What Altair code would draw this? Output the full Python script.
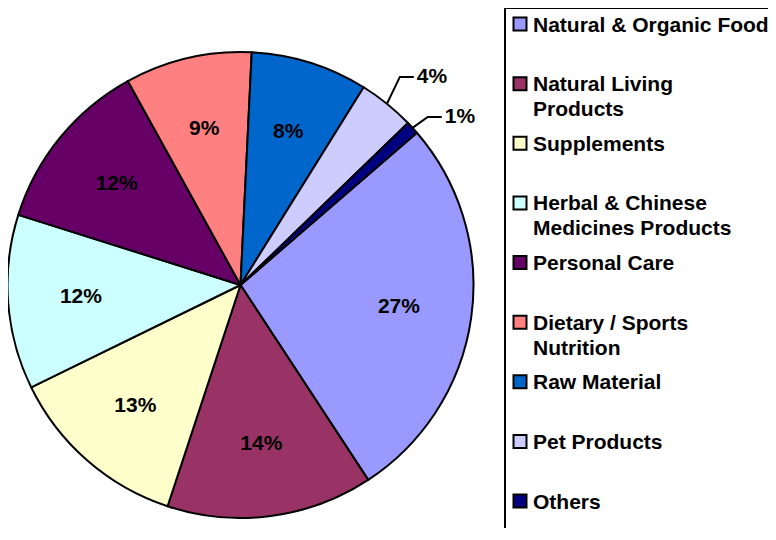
import altair as alt
import pandas as pd
import numpy as np

# ---- data ----
categories = ["Natural & Organic Food", "Natural Living Products", "Supplements",
              "Herbal & Chinese Medicines Products", "Personal Care",
              "Dietary / Sports Nutrition", "Raw Material", "Pet Products", "Others"]
legend_text = ["Natural & Organic Food", "Natural Living\nProducts", "Supplements",
               "Herbal & Chinese\nMedicines Products", "Personal Care",
               "Dietary / Sports\nNutrition", "Raw Material", "Pet Products", "Others"]
shares = [27.1, 14.3, 12.7, 12.1, 12.1, 8.8, 8.1, 3.9, 0.9]
pct_labels = ["27%", "14%", "13%", "12%", "12%", "9%", "8%", "4%", "1%"]
label_outside = [False, False, False, False, False, False, False, True, True]
colors = ["#9999FF", "#993366", "#FFFFCC", "#CCFFFF", "#660066",
          "#FF8080", "#0066CC", "#CCCCFF", "#000080"]

# ---- layout / style ----
W, H = 760, 520
CX, CY, R = 232.5, 277, 233
START = np.deg2rad(49.2)
FONT = "Liberation Sans"
FS = 21
# elbow of the leader lines for the outside labels: (radius factor, angle shift in deg)
ELBOW = [(1.125, -1.5), (1.08, 0.5)]

df = pd.DataFrame({
    "idx": list(range(len(categories))),
    "key": categories,
    "legend": legend_text,
    "share": shares,
    "inner": [("" if o else p) for p, o in zip(pct_labels, label_outside)],
})

color_scale = alt.Scale(domain=categories, range=colors)
theta_scale = alt.Scale(range=[START, START + 2 * np.pi])

base = alt.Chart(df)

box = base.transform_filter("datum.idx == 0").mark_rect(
    fill="white", stroke="black", strokeWidth=2
).encode(x=alt.value(497), x2=alt.value(W + 30), y=alt.value(0), y2=alt.value(H + 30))

pie = base.mark_arc(radius=R, stroke="black", strokeWidth=2, strokeJoin="round").encode(
    theta=alt.Theta("share:Q", stack=True, scale=theta_scale),
    color=alt.Color("key:N", scale=color_scale, legend=None),
    order=alt.Order("idx:Q"),
    x=alt.value(CX), y=alt.value(CY),
)

inner_txt = base.mark_text(radius=160, font=FONT, fontSize=FS, fontWeight="bold",
                           color="black", align="center", baseline="middle").encode(
    theta=alt.Theta("share:Q", stack=True, scale=theta_scale),
    text="inner:N",
    order=alt.Order("idx:Q"),
    x=alt.value(CX), y=alt.value(CY),
)

# leader lines for the small slices (geometry derived from the shares)
total = sum(shares)
cum = np.cumsum([0] + shares[:-1])
rows, lab_rows = [], []
k = 0
for i, (s, c, o) in enumerate(zip(shares, cum, label_outside)):
    if not o:
        continue
    mid = START + (c + s / 2) / total * 2 * np.pi
    ax, ay = np.sin(mid), np.cos(mid)
    rf, shift = ELBOW[k]
    k += 1
    el = mid + np.deg2rad(shift)
    bx, by = rf * np.sin(el), rf * np.cos(el)
    cx2 = bx + 14 / R
    for step, (px, py) in enumerate([(ax, ay), (bx, by), (cx2, by)]):
        rows.append({"grp": i, "step": step, "ux": px, "uy": py})
    lab_rows.append({"ux": cx2 + 3 / R, "uy": by, "lab": pct_labels[i]})
lead = pd.DataFrame(rows)
labs = pd.DataFrame(lab_rows)

xs = alt.Scale(domain=[-1, 1], range=[CX - R, CX + R])
ys = alt.Scale(domain=[-1, 1], range=[CY + R, CY - R])

leader = alt.Chart(lead).mark_line(color="black", strokeWidth=2).encode(
    x=alt.X("ux:Q", scale=xs, axis=None),
    y=alt.Y("uy:Q", scale=ys, axis=None),
    detail="grp:N", order="step:Q",
)
outer_txt = alt.Chart(labs).mark_text(font=FONT, fontSize=FS, fontWeight="bold",
                                      align="left", baseline="middle", color="black").encode(
    x=alt.X("ux:Q", scale=xs, axis=None),
    y=alt.Y("uy:Q", scale=ys, axis=None),
    text="lab:N",
)

ly = alt.Y("idx:Q", scale=alt.Scale(domain=[0, 8], range=[16, 493]), axis=None)
leg_sq = base.mark_square(size=169, stroke="black", strokeWidth=2, opacity=1).encode(
    x=alt.value(512), y=ly,
    color=alt.Color("key:N", scale=color_scale, legend=None),
)
leg_txt = base.mark_text(font=FONT, fontSize=FS, fontWeight="bold", align="left",
                         baseline="alphabetic", dy=7.5, lineBreak="\n", lineHeight=25,
                         color="black").encode(
    x=alt.value(525), y=ly, text="legend:N",
)

chart = alt.layer(box, pie, inner_txt, leader, outer_txt, leg_sq, leg_txt).resolve_scale(
    x="independent", y="independent"
).properties(
    width=W, height=H, padding=0,
    autosize=alt.AutoSizeParams(type="none"),
).configure_view(stroke=None)

chart.save("out.html", embed_options={"renderer": "svg", "actions": False})
